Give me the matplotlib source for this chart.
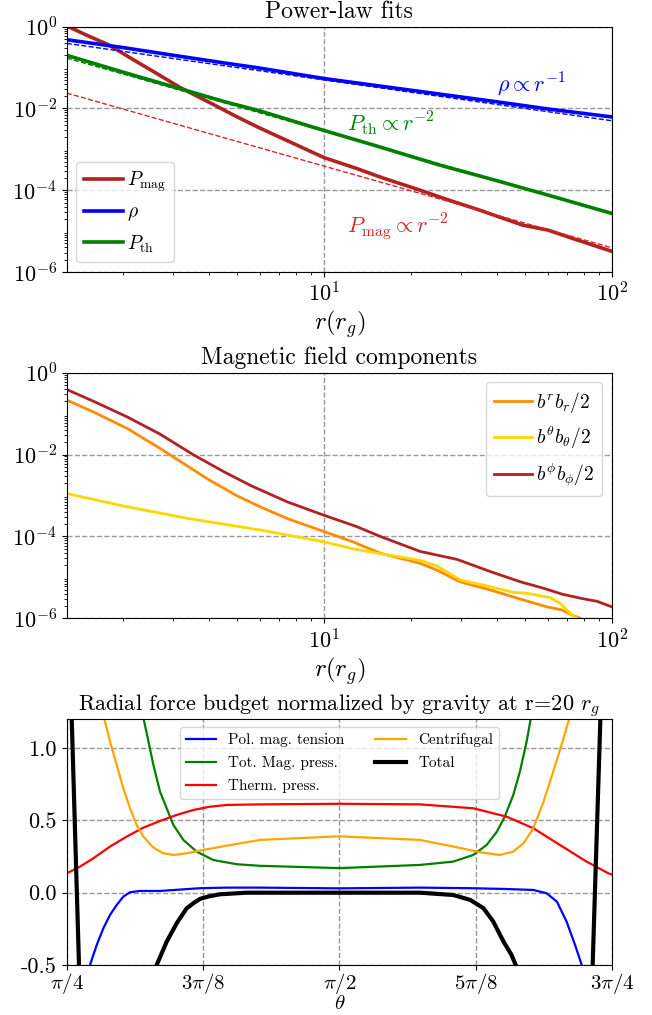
import matplotlib
matplotlib.use("Agg")
import matplotlib.pyplot as plt
import numpy as np
from matplotlib.ticker import LogLocator, NullFormatter, FixedLocator, FixedFormatter

plt.rcParams['font.family'] = 'serif'
plt.rcParams['font.serif'] = ['cmr10']
plt.rcParams['mathtext.fontset'] = 'cm'
plt.rcParams['axes.formatter.use_mathtext'] = True
plt.rcParams['axes.unicode_minus'] = False

# --- power-law fits panel ---
r_rho = [1.28, 2.0, 3.0, 4.5, 6.0, 10, 20, 40, 60, 100]
rho = [0.48, 0.31, 0.20, 0.13, 0.097, 0.054, 0.028, 0.0145, 0.0097, 0.0062]

r_pth = [1.28, 2.0, 3.0, 4.5, 6.0, 10, 15, 25, 40, 60, 100]
pth = [0.20, 0.078, 0.034, 0.0148, 0.0087, 0.0029, 0.00125, 4.2e-4, 1.7e-4, 7.6e-5, 2.7e-5]

r_pmag = [1.28, 1.5, 1.79, 2.2, 2.6, 3.17, 4.0, 5.0, 6.0, 8.0, 10, 13, 16, 21, 27,
          35, 49, 60, 75, 100]
pmag = [1.05, 0.62, 0.36, 0.15, 0.075, 0.0325, 0.0141, 0.0062, 0.0033, 1.3e-3, 6.3e-4,
        3.4e-4, 2.0e-4, 1.07e-4, 5.8e-5, 3.2e-5, 1.4e-5, 1.06e-5, 6.2e-6, 3.2e-6]

# fit amplitude and slope: A * r**slope
fit_rho = (0.5, -1)
fit_pth = (0.28, -2)
fit_pmag = (0.039, -2)
r_fit = np.array([1.28, 100.0])

# --- magnetic field components panel ---
r_br = [1.28, 1.58, 2.07, 2.70, 3.53, 4.0, 5.0, 5.97, 7.5, 10, 12.6, 15.7, 21.6, 24.7,
        29.7, 37.9, 49.3, 59.6, 67.1, 72.6, 77.7, 100]
br = [0.215, 0.111, 0.044, 0.0141, 4.2e-3, 2.4e-3, 9.8e-4, 5.4e-4, 2.7e-4, 1.32e-4,
      7.4e-5, 3.9e-5, 2.2e-5, 1.5e-5, 7.8e-6, 4.9e-6, 2.8e-6, 1.9e-6, 1.6e-6, 1.2e-6,
      1.0e-6, 4e-7]

r_bth = [1.28, 2.05, 3.38, 5.97, 10, 12.6, 15.7, 21.6, 24.7, 29.7, 37.9, 45.6, 50.7,
         61.1, 66.2, 71.8, 75.6, 83]
bth = [1.12e-3, 5.4e-4, 2.75e-4, 1.45e-4, 7.4e-5, 5.0e-5, 3.8e-5, 2.6e-5, 1.9e-5,
       8.7e-6, 5.9e-6, 4.3e-6, 4.1e-6, 3.2e-6, 2.3e-6, 1.3e-6, 1.0e-6, 5e-7]

r_bph = [1.28, 1.6, 2.07, 2.7, 3.53, 4.5, 5.58, 7.5, 10, 13, 15.7, 21.6, 29.0, 37.9,
         48.1, 58.0, 67.1, 77.7, 88.8, 100]
bph = [0.39, 0.195, 0.084, 0.0316, 9.8e-3, 3.8e-3, 1.74e-3, 6.9e-4, 3.3e-4, 1.74e-4,
       1.0e-4, 4.3e-5, 2.75e-5, 1.38e-5, 7.8e-6, 5.4e-6, 3.9e-6, 3.1e-6, 2.6e-6, 1.9e-6]

# --- radial force budget panel (theta in degrees) ---
th_tens = [45, 48.85, 49.95, 51.05, 52.15, 53.25, 54.35, 55.45, 57.1, 60.4, 67.0, 71.4,
           76.9, 90, 103.3, 111.6, 117.1, 122.0, 124.2, 125.9, 127.5, 128.9, 130.0, 135]
tens = [-1.5, -0.5, -0.362, -0.246, -0.154, -0.085, -0.027, 0.003, 0.012, 0.012, 0.031,
        0.035, 0.035, 0.03, 0.035, 0.031, 0.026, 0.019, -0.004, -0.062, -0.2, -0.362,
        -0.5, -1.5]

th_mag = [55.5, 57.55, 58.5, 59.3, 60.4, 61.5, 62.6, 64.25, 66.45, 69.2, 73.05, 76.9,
          90, 103.3, 108.8, 112.1, 114.3, 116.0, 117.3, 118.7, 119.8, 120.9, 121.7, 123.5]
magp = [2.0, 1.23, 1.045, 0.884, 0.699, 0.584, 0.469, 0.365, 0.284, 0.226, 0.197, 0.186,
        0.17, 0.192, 0.215, 0.261, 0.330, 0.422, 0.526, 0.676, 0.838, 1.045, 1.23, 2.0]

th_therm = [45, 47.2, 49.4, 52.15, 54.9, 57.65, 60.4, 63.16, 65.9, 68.65, 71.4, 76.9,
            90, 103.3, 112.1, 117.6, 122.0, 126.4, 130.8, 134.4, 135]
therm = [0.134, 0.180, 0.238, 0.319, 0.388, 0.45, 0.496, 0.538, 0.572, 0.595, 0.607,
         0.611, 0.615, 0.611, 0.584, 0.526, 0.446, 0.330, 0.215, 0.134, 0.125]

th_cent = [49.5, 51.05, 52.15, 53.25, 54.35, 55.45, 56.55, 57.65, 59.3, 60.95, 62.6,
           64.8, 67.55, 71.4, 76.9, 90, 103.3, 108.8, 113.2, 116.5, 118.7, 120.4, 122.0,
           123.7, 125.3, 127.0, 128.1, 129.5]
cent = [1.6, 1.23, 1.045, 0.884, 0.722, 0.584, 0.469, 0.388, 0.312, 0.273, 0.261, 0.273,
        0.296, 0.325, 0.365, 0.39, 0.365, 0.319, 0.28, 0.261, 0.284, 0.342, 0.446, 0.630,
        0.838, 1.068, 1.23, 1.6]

th_tot = [45.0, 47.5, 53.0, 58.5, 59.85, 61.5, 63.16, 64.8, 66.0, 67.0, 68.5, 70.3, 74.7,
          90, 103.3, 108.8, 111.6, 113.8, 115.4, 117.1, 118.4, 119.3, 120.5, 126, 131.3,
          133.6]
total = [2.38, -1.17, -3.0, -0.7, -0.5, -0.339, -0.211, -0.108, -0.07, -0.043, -0.025,
         -0.011, 0.0, 0.0, 0.0, -0.016, -0.05, -0.108, -0.2, -0.339, -0.43, -0.52, -0.7,
         -3.0, -1.17, 1.9]

grid_kw = dict(color='gray', linestyle='--', linewidth=1.0, alpha=0.8)

fig = plt.figure(figsize=(6.52, 10.15), dpi=100)
ax1 = fig.add_axes([0.1023, 0.732, 0.8364, 0.2417])
ax2 = fig.add_axes([0.1023, 0.3908, 0.8364, 0.242])
ax3 = fig.add_axes([0.1023, 0.0493, 0.8364, 0.2421])


def log_axis(ax):
    ax.set_xscale('log')
    ax.set_yscale('log')
    ax.set_xlim(1.28, 100)
    ax.set_ylim(1e-6, 1)
    ax.set_yticks([1, 1e-2, 1e-4, 1e-6])
    ax.set_xticks([10, 100])
    ax.yaxis.set_minor_locator(LogLocator(base=10, subs=np.arange(2, 10), numticks=50))
    ax.yaxis.set_minor_formatter(NullFormatter())
    ax.xaxis.set_minor_locator(LogLocator(base=10, subs=np.arange(2, 10), numticks=50))
    ax.xaxis.set_minor_formatter(NullFormatter())
    ax.grid(True, which='major', **grid_kw)
    ax.tick_params(labelsize=16)
    ax.set_xlabel(r'$r(r_g)$', fontsize=18, labelpad=2)


# power-law fits
log_axis(ax1)
ax1.plot(r_pmag, pmag, color='firebrick', lw=2.6, label=r'$P_{\rm mag}$')
ax1.plot(r_rho, rho, color='blue', lw=2.6, label=r'$\rho$')
ax1.plot(r_pth, pth, color='green', lw=2.6, label=r'$P_{\rm th}$')
ax1.plot(r_fit, fit_rho[0] * r_fit ** fit_rho[1], color='blue', ls='--', lw=1)
ax1.plot(r_fit, fit_pth[0] * r_fit ** fit_pth[1], color='green', ls='--', lw=1)
ax1.plot(r_fit, fit_pmag[0] * r_fit ** fit_pmag[1], color='tab:red', ls='--', lw=1)
ax1.text(40, 0.04, r'$\rho \propto r^{-1}$', color='blue', fontsize=16, va='center')
ax1.text(12.05, 4.4e-3, r'$P_{\rm th} \propto r^{-2}$', color='green', fontsize=16,
         va='center')
ax1.text(12.0, 1.3e-5, r'$P_{\rm mag} \propto r^{-2}$', color='tab:red', fontsize=16,
         va='center')
ax1.legend(loc='lower left', fontsize=14, handletextpad=0.2)
ax1.set_title('Power-law fits', fontsize=17)

# magnetic field components
log_axis(ax2)
ax2.plot(r_br, br, color='darkorange', lw=2, label=r'$b^r b_r/2$')
ax2.plot(r_bth, bth, color='gold', lw=2, label=r'$b^\theta b_\theta/2$')
ax2.plot(r_bph, bph, color='firebrick', lw=2, label=r'$b^\phi b_\phi/2$')
ax2.legend(loc='upper right', fontsize=14, handletextpad=0.2)
ax2.set_title('Magnetic field components', fontsize=17)

# radial force budget
rad = np.radians
ax3.plot(rad(th_tens), tens, color='blue', lw=1.6, label='Pol. mag. tension')
ax3.plot(rad(th_mag), magp, color='green', lw=1.6, label='Tot. Mag. press.')
ax3.plot(rad(th_therm), therm, color='red', lw=1.6, label='Therm. press.')
ax3.plot(rad(th_cent), cent, color='orange', lw=1.6, label='Centrifugal')
ax3.plot(rad(th_tot), total, color='black', lw=3, label='Total')
ax3.set_xlim(np.pi / 4, 3 * np.pi / 4)
ax3.set_ylim(-0.5, 1.2)
ax3.xaxis.set_major_locator(FixedLocator(np.pi * np.array([2, 3, 4, 5, 6]) / 8))
ax3.xaxis.set_major_formatter(FixedFormatter([r'$\pi/4$', r'$3\pi/8$', r'$\pi/2$',
                                              r'$5\pi/8$', r'$3\pi/4$']))
ax3.yaxis.set_major_locator(FixedLocator([-0.5, 0.0, 0.5, 1.0]))
ax3.yaxis.set_major_formatter(FixedFormatter(['-0.5', '0.0', '0.5', '1.0']))
ax3.grid(True, **grid_kw)
ax3.tick_params(axis='y', labelsize=16)
ax3.tick_params(axis='x', labelsize=15, pad=1)
ax3.set_xlabel(r'$\theta$', fontsize=15, labelpad=-1)
ax3.legend(loc='upper center', ncol=2, fontsize=11, labelspacing=0.6)
ax3.set_title(r'Radial force budget normalized by gravity at r=20 $r_g$', fontsize=16)

fig.savefig('out.png', dpi=100)
